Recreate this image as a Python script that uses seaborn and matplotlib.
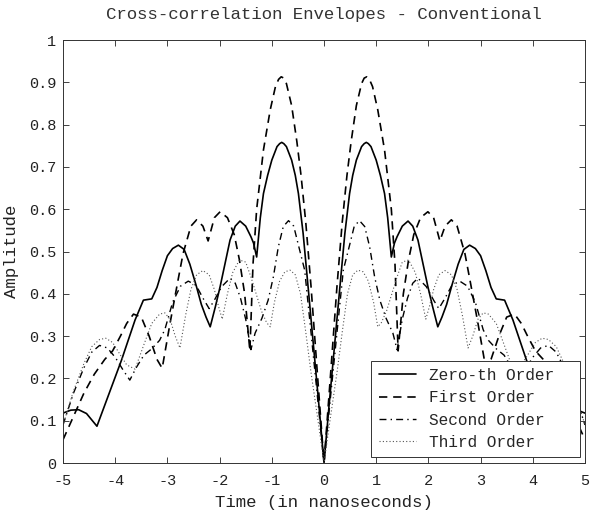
import numpy as np
import pandas as pd
import seaborn as sns
import matplotlib.pyplot as plt

# values (time in ns, envelope amplitude)
t_zero = [-5.0, -4.85, -4.7, -4.55, -4.35, -4.1, -3.88, -3.62, -3.46, -3.3, -3.2, -3.1, -3.0, -2.9,
          -2.79, -2.68, -2.57, -2.45, -2.35, -2.26, -2.18, -2.08, -1.99, -1.8, -1.7, -1.61, -1.5,
          -1.4, -1.35, -1.29, -1.22, -1.16, -1.08, -1.0, -0.9, -0.85, -0.81, -0.77, -0.72, -0.62,
          -0.55, -0.49, -0.4, -0.3, -0.2, -0.1, 0.0, 0.1, 0.2, 0.3, 0.4, 0.49, 0.55, 0.62, 0.72,
          0.77, 0.81, 0.85, 0.9, 1.0, 1.08, 1.16, 1.22, 1.29, 1.35, 1.4, 1.5, 1.61, 1.7, 1.8, 1.99,
          2.08, 2.18, 2.26, 2.35, 2.45, 2.57, 2.68, 2.79, 2.9, 3.0, 3.1, 3.2, 3.3, 3.46, 3.62,
          3.88, 4.1, 4.35, 4.55, 4.7, 4.85, 5.0]
amp_zero = [0.118, 0.125, 0.126, 0.117, 0.087, 0.17, 0.243, 0.338, 0.385, 0.388, 0.415, 0.455, 0.49,
            0.507, 0.515, 0.505, 0.47, 0.42, 0.375, 0.345, 0.322, 0.37, 0.417, 0.527, 0.56, 0.572,
            0.56, 0.535, 0.52, 0.487, 0.58, 0.637, 0.68, 0.716, 0.748, 0.755, 0.758, 0.755, 0.748,
            0.716, 0.68, 0.637, 0.543, 0.41, 0.275, 0.14, 0.0, 0.14, 0.275, 0.41, 0.543, 0.637,
            0.68, 0.716, 0.748, 0.755, 0.758, 0.755, 0.748, 0.716, 0.68, 0.637, 0.58, 0.487, 0.52,
            0.535, 0.56, 0.572, 0.56, 0.527, 0.417, 0.37, 0.322, 0.345, 0.375, 0.42, 0.47, 0.505,
            0.515, 0.507, 0.49, 0.455, 0.415, 0.388, 0.385, 0.338, 0.243, 0.17, 0.087, 0.117,
            0.126, 0.125, 0.118]

t_first = [-5.0, -4.8, -4.6, -4.4, -4.2, -4.05, -3.9, -3.78, -3.65, -3.5, -3.35, -3.2, -3.1, -2.95,
           -2.8, -2.7, -2.55, -2.44, -2.32, -2.22, -2.1, -1.99, -1.85, -1.72, -1.62, -1.52, -1.42,
           -1.36, -1.29, -1.16, -1.03, -0.93, -0.87, -0.82, -0.77, -0.72, -0.62, -0.52, -0.44,
           -0.35, -0.25, -0.12, 0.0, 0.12, 0.25, 0.35, 0.44, 0.52, 0.62, 0.72, 0.77, 0.82, 0.87,
           0.93, 1.03, 1.16, 1.29, 1.36, 1.42, 1.52, 1.62, 1.72, 1.85, 1.99, 2.1, 2.22, 2.32, 2.44,
           2.55, 2.7, 2.8, 2.95, 3.1, 3.2, 3.35, 3.5, 3.65, 3.78, 3.9, 4.05, 4.2, 4.4, 4.6, 4.8,
           5.0]
amp_first = [0.055, 0.11, 0.165, 0.21, 0.245, 0.265, 0.3, 0.33, 0.352, 0.345, 0.3, 0.245, 0.224,
             0.33, 0.43, 0.495, 0.56, 0.575, 0.56, 0.525, 0.58, 0.594, 0.58, 0.54, 0.48, 0.4,
             0.265, 0.47, 0.6, 0.74, 0.835, 0.89, 0.907, 0.913, 0.91, 0.897, 0.845, 0.76, 0.68,
             0.57, 0.42, 0.2, 0.0, 0.2, 0.42, 0.57, 0.68, 0.76, 0.845, 0.897, 0.91, 0.913, 0.907,
             0.89, 0.835, 0.74, 0.6, 0.47, 0.265, 0.4, 0.48, 0.54, 0.58, 0.594, 0.58, 0.525, 0.56,
             0.575, 0.56, 0.495, 0.43, 0.33, 0.224, 0.245, 0.3, 0.345, 0.352, 0.33, 0.3, 0.265,
             0.245, 0.21, 0.165, 0.11, 0.055]

t_second = [-5.0, -4.8, -4.6, -4.45, -4.3, -4.15, -4.0, -3.85, -3.72, -3.6, -3.45, -3.3, -3.15,
            -3.05, -2.9, -2.75, -2.6, -2.45, -2.32, -2.2, -2.1, -1.96, -1.8, -1.7, -1.6, -1.5, -1.4,
            -1.32, -1.19, -1.07, -0.97, -0.875, -0.78, -0.68, -0.58, -0.5, -0.37, -0.25, -0.12,
            0.0, 0.12, 0.25, 0.37, 0.5, 0.58, 0.68, 0.78, 0.875, 0.97, 1.07, 1.19, 1.32, 1.4, 1.5,
            1.6, 1.7, 1.8, 1.96, 2.1, 2.2, 2.32, 2.45, 2.6, 2.75, 2.9, 3.05, 3.15, 3.3, 3.45, 3.6,
            3.72, 3.85, 4.0, 4.15, 4.3, 4.45, 4.6, 4.8, 5.0]
amp_second = [0.09, 0.165, 0.225, 0.262, 0.278, 0.272, 0.25, 0.22, 0.196, 0.225, 0.255, 0.27,
              0.29, 0.315, 0.38, 0.418, 0.43, 0.42, 0.39, 0.365, 0.385, 0.417, 0.437, 0.425,
              0.39, 0.34, 0.268, 0.307, 0.342, 0.385, 0.44, 0.511, 0.559, 0.573, 0.56, 0.52,
              0.456, 0.31, 0.15, 0.0, 0.15, 0.31, 0.456, 0.52, 0.56, 0.573, 0.559, 0.511, 0.44,
              0.385, 0.342, 0.307, 0.268, 0.34, 0.39, 0.425, 0.437, 0.417, 0.385, 0.365, 0.39,
              0.42, 0.43, 0.418, 0.38, 0.315, 0.29, 0.27, 0.255, 0.225, 0.196, 0.22, 0.25, 0.272,
              0.278, 0.262, 0.225, 0.165, 0.09]

t_third = [-5.0, -4.8, -4.6, -4.45, -4.3, -4.18, -4.05, -3.9, -3.78, -3.62, -3.45, -3.3, -3.15,
           -3.05, -2.95, -2.85, -2.76, -2.65, -2.55, -2.44, -2.32, -2.2, -2.1, -2.02, -1.95, -1.85,
           -1.75, -1.62, -1.5, -1.4, -1.3, -1.2, -1.1, -1.03, -0.95, -0.85, -0.75, -0.65, -0.55,
           -0.45, -0.35, -0.25, -0.12, 0.0, 0.12, 0.25, 0.35, 0.45, 0.55, 0.65, 0.75, 0.85, 0.95,
           1.03, 1.1, 1.2, 1.3, 1.4, 1.5, 1.62, 1.75, 1.85, 1.95, 2.02, 2.1, 2.2, 2.32, 2.44, 2.55,
           2.65, 2.76, 2.85, 2.95, 3.05, 3.15, 3.3, 3.45, 3.62, 3.78, 3.9, 4.05, 4.18, 4.3, 4.45,
           4.6, 4.8, 5.0]
amp_third = [0.09, 0.17, 0.235, 0.275, 0.292, 0.295, 0.285, 0.255, 0.232, 0.222, 0.28, 0.33,
             0.352, 0.355, 0.34, 0.3, 0.272, 0.35, 0.41, 0.445, 0.455, 0.445, 0.41, 0.37, 0.34,
             0.4, 0.45, 0.48, 0.475, 0.44, 0.4, 0.36, 0.332, 0.322, 0.38, 0.43, 0.452, 0.456,
             0.445, 0.4, 0.31, 0.215, 0.105, 0.0, 0.105, 0.215, 0.31, 0.4, 0.445, 0.456, 0.452,
             0.43, 0.38, 0.322, 0.332, 0.36, 0.4, 0.44, 0.475, 0.48, 0.45, 0.4, 0.34, 0.37, 0.41,
             0.445, 0.455, 0.445, 0.41, 0.35, 0.272, 0.3, 0.34, 0.355, 0.352, 0.33, 0.28, 0.222,
             0.232, 0.255, 0.285, 0.295, 0.292, 0.275, 0.235, 0.17, 0.09]

labels = ["Zero-th Order", "First Order", "Second Order", "Third Order"]
x_ticks = [-5, -4, -3, -2, -1, 0, 1, 2, 3, 4, 5]
y_ticks = [0, 0.1, 0.2, 0.3, 0.4, 0.5, 0.6, 0.7, 0.8, 0.9, 1]
y_ticklabels = ["0", "0.1", "0.2", "0.3", "0.4", "0.5", "0.6", "0.7", "0.8", "0.9", "1"]

sns.set_style("ticks")
plt.rcParams['font.family'] = ['Liberation Mono', 'DejaVu Sans Mono']
plt.rcParams['axes.unicode_minus'] = False

fig = plt.figure(figsize=(5.9, 5.21), dpi=100)
ax = fig.add_axes([0.1068, 0.1113, 0.8847, 0.8119])

curves = [(t_zero, amp_zero, "-", 1.2, "black"),
          (t_first, amp_first, (0, (5, 3.5)), 1.2, "black"),
          (t_second, amp_second, (0, (5, 3, 1, 3)), 1.0, "black"),
          (t_third, amp_third, (0, (1, 2)), 0.8, "#555555")]

for lab, (t, a, ls, lw, col) in zip(labels, curves):
    sns.lineplot(x=t, y=a, ax=ax, label=lab, color=col, linestyle=ls, linewidth=lw)

ax.set_xlim(-5, 5)
ax.set_ylim(0, 1)
ax.set_xticks(x_ticks)
ax.set_xticklabels([str(v) for v in x_ticks])
ax.set_yticks(y_ticks)
ax.set_yticklabels(y_ticklabels)
ax.tick_params(direction="in", top=True, right=True, length=4, width=0.6,
               labelsize=11, colors="#222222")
ax.tick_params(axis="x", pad=8)
ax.tick_params(axis="y", pad=5)
for s in ax.spines.values():
    s.set_color("#333333")
    s.set_linewidth(0.7)

ax.set_title("Cross-correlation Envelopes - Conventional", fontsize=12.5, color="#333333", pad=15)
ax.set_xlabel("Time (in nanoseconds)", fontsize=12.5, color="#222222", labelpad=5)
ax.set_ylabel("Amplitude", fontsize=12.5, color="#222222", labelpad=7)

# MATLAB-style legend box: extra room on the right of the labels
handles, _ = ax.get_legend_handles_labels()
leg = ax.legend(handles, [lab + "  " for lab in labels],
                loc="lower right", bbox_to_anchor=(0.991, 0.014), borderaxespad=0,
                fontsize=11.6, fancybox=False, framealpha=1, edgecolor="#333333",
                handlelength=2.3, handletextpad=0.8, labelspacing=0.45, borderpad=0.45)
leg.get_frame().set_linewidth(0.7)

fig.savefig("out.png", dpi=100)
